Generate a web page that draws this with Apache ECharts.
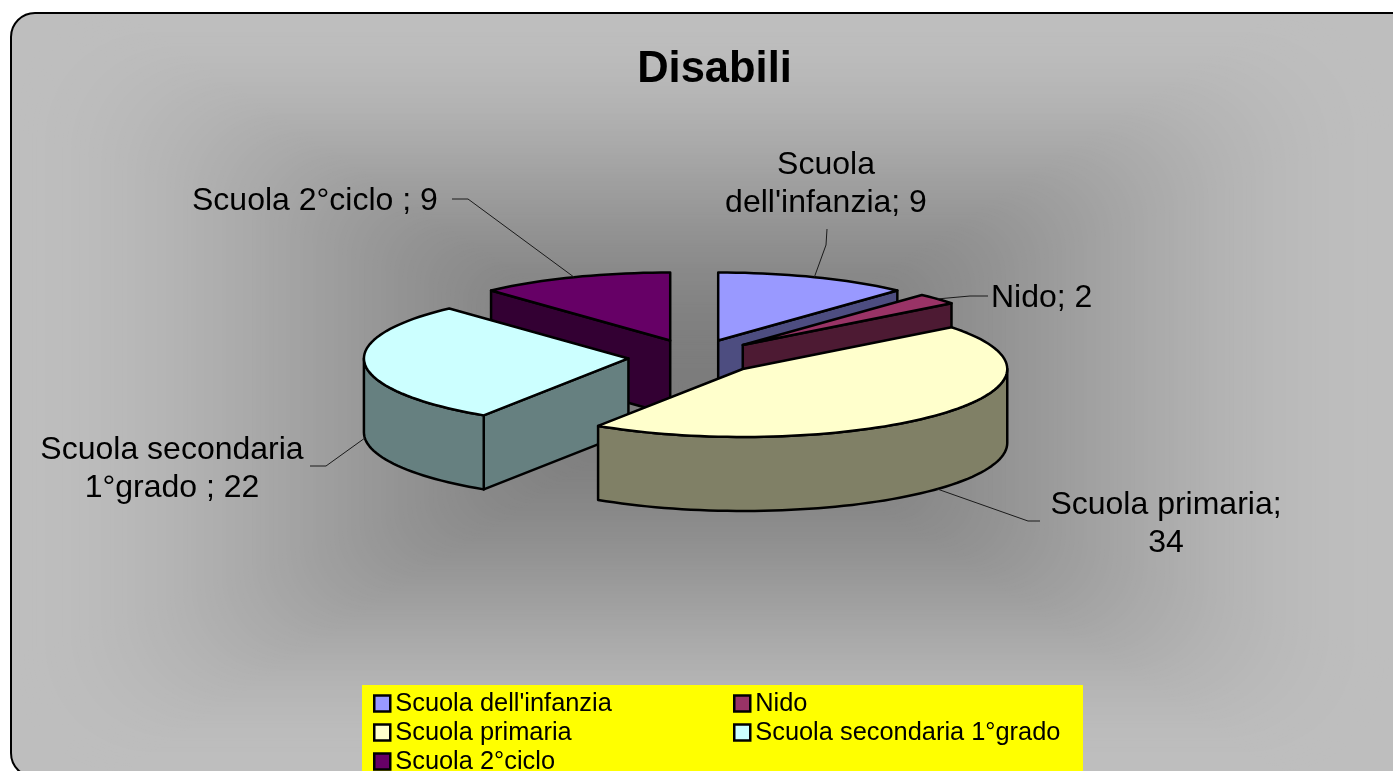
<!DOCTYPE html>
<html>
<head>
<meta charset="utf-8">
<style>html,body{margin:0;padding:0;background:#fff;overflow:hidden}#c{width:1393px;height:771px}</style>
<script src="https://cdn.jsdelivr.net/npm/echarts@6/dist/echarts.min.js"></script>
</head>
<body>
<div id="c"></div>
<script>
var categories = ["Scuola dell'infanzia", "Nido", "Scuola primaria", "Scuola secondaria 1°grado", "Scuola 2°ciclo"];
var values = [9, 2, 34, 22, 9];
var labelLines = [["Scuola", "dell'infanzia; {v}"], ["Nido; {v}"], ["Scuola primaria;", "{v}"], ["Scuola secondaria", "1°grado ; {v}"], ["Scuola 2°ciclo ; {v}"]];
var topColors = ['#9999FF', '#993366', '#FFFFCC', '#CCFFFF', '#660066'];
var wallColors = ['#4D4D80', '#4D1A33', '#808066', '#668080', '#330033'];
var paintOrder = [2, 4, 6, 5, 3];

var FONT = '"Liberation Sans", Arial, sans-serif';
var pie = {cx: 694.2, cy: 357, rx: 264.5, ry: 68, ex: 66, ey: 17.7, depth: 74};
var labelPlace = [
  {x: 826, y: 165, align: 'center', elbow: [[827, 229], [826, 245]]},
  {x: 991, y: 298, align: 'left', elbow: [[988, 296], [970, 296]]},
  {x: 1166, y: 505, align: 'center', elbow: [[1040, 521], [1028, 521]]},
  {x: 172, y: 450, align: 'center', elbow: [[310, 466], [326, 466]]},
  {x: 192, y: 201, align: 'left', elbow: [[452, 199], [468, 199]]}
];
var total = values.reduce(function (a, b) { return a + b; }, 0);
var RAD = Math.PI / 180;
var starts = [];
values.reduce(function (acc, v, i) { starts[i] = acc; return acc + v / total * 360; }, 0);

function renderSlice(idx) {
  return function (params, api) {
    var v = api.value(0);
    var a = starts[idx], b = a + v / total * 360, mid = (a + b) / 2;
    var ox = pie.cx + pie.ex * Math.sin(mid * RAD);
    var oy = pie.cy - pie.ey * Math.cos(mid * RAD);
    function pt(t, d) {
      return [ox + pie.rx * Math.sin(t * RAD), oy - pie.ry * Math.cos(t * RAD) + (d || 0)];
    }
    function arc(s, e) {
      var out = [], n = Math.max(2, Math.ceil(Math.abs(e - s) / 2));
      for (var i = 0; i <= n; i++) out.push(s + (e - s) * i / n);
      return out;
    }
    var wallStyle = {fill: wallColors[idx], stroke: '#000', lineWidth: 2.5, lineJoin: 'round'};
    var children = [];
    function addCut(t) {
      children.push({type: 'polygon', shape: {points: [[ox, oy], pt(t), pt(t, pie.depth), [ox, oy + pie.depth]]}, style: wallStyle});
    }
    if (Math.cos((a - 90) * RAD) < -1e-6) addCut(a);
    if (Math.cos((b + 90) * RAD) < -1e-6) addCut(b);
    var fa = Math.max(a, 90), fb = Math.min(b, 270);
    if (fb > fa) {
      var ts = arc(fa, fb);
      var wall = ts.map(function (t) { return pt(t); }).concat(ts.slice().reverse().map(function (t) { return pt(t, pie.depth); }));
      children.push({type: 'polygon', shape: {points: wall}, style: wallStyle});
    }
    var face = [[ox, oy]].concat(arc(a, b).map(function (t) { return pt(t); }));
    children.push({type: 'polygon', shape: {points: face}, style: {fill: topColors[idx], stroke: '#000', lineWidth: 2.5, lineJoin: 'round'}});

    var place = labelPlace[idx];
    var end = pt(mid, mid > 90 && mid < 270 ? pie.depth : 0);
    children.push({type: 'polyline', shape: {points: place.elbow.concat([end])}, style: {fill: 'none', stroke: '#1a1a1a', lineWidth: 1}});
    labelLines[idx].forEach(function (line, i) {
      children.push({
        type: 'text', x: place.x, y: place.y + i * 38.5,
        style: {text: line.replace('{v}', v), font: '32px ' + FONT, fill: '#000', textAlign: place.align, textVerticalAlign: 'middle'}
      });
    });
    return {type: 'group', children: children};
  };
}

var frame = {x: 11, y: 13, width: 1410, height: 764, r: 24};
var bg = [{type: 'rect', shape: frame, style: {fill: '#BEBEBE'}}];
var grad = {x: 700, y: 392, hw: 689, hh: 379, outer: 190, inner: 124, steps: 160};
for (var s = grad.steps; s > 0; s--) {
  var f = s / grad.steps;
  var u = Math.pow(f, 1.1);
  var g = Math.round(grad.inner + (grad.outer - grad.inner) * u * u * (3 - 2 * u));
  var c = 'rgb(' + g + ',' + g + ',' + g + ')';
  bg.push({type: 'rect', shape: {x: grad.x - grad.hw * f, y: grad.y - grad.hh * f, width: 2 * grad.hw * f, height: 2 * grad.hh * f, r: grad.hh * f * 0.3}, style: {fill: c}});
}
bg.push({type: 'rect', shape: frame, style: {fill: 'none', stroke: '#000', lineWidth: 2}});
bg.push({type: 'rect', shape: {x: 362, y: 685, width: 721, height: 90}, style: {fill: '#FFFF00'}});

var legendBase = {
  orient: 'vertical', itemWidth: 16, itemHeight: 16, itemGap: 0, icon: 'rect', padding: 0,
  itemStyle: {borderColor: '#000', borderWidth: 2.5},
  textStyle: {fontFamily: FONT, fontSize: 25.4, color: '#000', lineHeight: 29},
  selectedMode: false
};
function legendAt(left, top, names) {
  return Object.assign({}, legendBase, {left: left, top: top, data: names});
}

var option = {
  animation: false,
  title: {text: 'Disabili', left: 709.5, top: 65, textAlign: 'center', textVerticalAlign: 'middle',
    textStyle: {fontFamily: FONT, fontSize: 43.5, fontWeight: 'bold', color: '#000'}},
  graphic: {elements: bg.map(function (e) { return Object.assign({silent: true}, e); })},
  legend: [
    legendAt(373, 689, [categories[0]]),
    legendAt(373, 718, [categories[2]]),
    legendAt(373, 747, [categories[4]]),
    legendAt(733, 689, [categories[1]]),
    legendAt(733, 718, [categories[3]])
  ],
  series: categories.map(function (name, i) {
    return {
      type: 'custom', name: name, coordinateSystem: 'none', z: paintOrder[i], silent: true,
      itemStyle: {color: topColors[i]},
      renderItem: renderSlice(i),
      data: [[values[i]]]
    };
  })
};
var chart = echarts.init(document.getElementById('c'), null, {renderer: 'canvas'});
chart.setOption(option);
</script>
</body>
</html>
